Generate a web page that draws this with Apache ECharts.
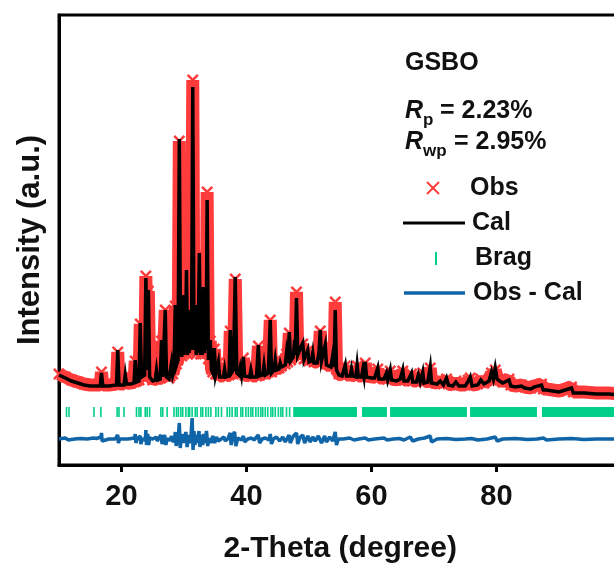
<!DOCTYPE html>
<html><head><meta charset="utf-8">
<script src="https://cdn.jsdelivr.net/npm/echarts@6/dist/echarts.min.js"></script>
<style>html,body{margin:0;padding:0;background:#fff}#c{width:614px;height:569px}</style>
</head><body><div id="c"></div>
<script>
// ---- data (2-theta in degrees, intensity in arbitrary units) ----
const xTicks = [20, 40, 60, 80];
const calPoints = [[10,90],[11,87],[12,84],[13,82],[14,80],[15,79],[16,79],[16.6,79],[16.8,92],[17.0,79],[18,79],[19.2,80],[19.4,115],[19.6,80],[20.4,80],[20.6,90],[20.8,81],[21.5,81],[22.0,82],[22.2,105],[22.4,83],[22.8,84],[23.0,142],[23.2,88],[23.7,90],[23.9,187],[24.1,95],[24.3,175],[24.5,88],[25.0,84],[25.4,85],[25.6,95],[25.8,85],[26.2,86],[26.4,125],[26.6,88],[26.8,88],[27.0,155],[27.2,88],[27.6,86],[27.8,88],[28.0,102],[28.2,90],[28.4,95],[28.6,160],[28.8,100],[29.05,105],[29.25,326],[29.45,110],[29.55,165],[29.65,108],[29.8,170],[29.95,110],[30.05,145],[30.2,112],[30.4,195],[30.55,110],[30.7,155],[30.85,112],[31.0,135],[31.2,115],[31.4,378],[31.6,115],[31.8,160],[31.95,110],[32.1,145],[32.25,112],[32.45,212],[32.65,110],[32.8,165],[32.95,110],[33.1,178],[33.25,112],[33.4,145],[33.55,115],[33.7,265],[33.9,105],[34.2,125],[34.4,95],[34.6,92],[34.85,117],[35.05,90],[35.3,90],[35.5,103],[35.7,88],[36.3,88],[36.5,96],[36.7,88],[37.2,89],[37.4,135],[37.6,92],[37.9,95],[38.2,188],[38.45,92],[38.8,90],[39.0,97],[39.2,90],[39.5,108],[39.7,89],[40.5,88],[40.7,95],[40.9,88],[41.6,88],[41.9,120],[42.1,89],[42.6,90],[42.8,100],[43.0,90],[43.5,92],[43.8,145],[44.0,92],[44.4,95],[44.6,105],[44.8,95],[45.2,96],[45.4,102],[45.6,98],[46.2,100],[46.4,112],[46.6,102],[46.85,133],[47.05,104],[47.5,108],[47.7,125],[47.8,110],[48.0,167],[48.2,110],[48.5,108],[48.7,118],[49.0,122],[49.2,105],[49.5,106],[49.8,115],[50.0,103],[50.4,104],[50.6,112],[50.8,102],[51.3,102],[51.6,113],[51.8,135],[52.0,104],[52.3,105],[52.6,120],[52.8,100],[53.5,98],[53.8,110],[54.0,98],[54.2,155],[54.4,95],[54.8,90],[55.3,89],[55.8,100],[56.0,89],[56.6,89],[56.8,96],[57.0,89],[57.5,88],[57.7,100],[57.9,88],[58.4,88],[58.6,95],[58.8,88],[59.0,103],[59.2,88],[60,87],[60.5,87],[61.0,97],[61.2,86],[62,86],[62.4,92],[62.6,85],[63.0,95],[63.2,85],[64,84],[64.6,86],[65.0,95],[65.2,84],[65.8,84],[66.4,92],[66.6,83],[67.2,83],[67.5,90],[67.8,83],[68.2,93],[68.4,82],[69.0,83],[69.4,98],[69.6,82],[70.5,81],[71,84],[71.5,80],[72,87],[72.3,80],[73,79],[73.5,83],[74,79],[75,79],[75.5,84],[75.8,88],[76.1,79],[77,80],[77.5,85],[78,81],[78.8,84],[79.2,93],[79.5,86],[79.8,97],[80.1,86],[80.5,84],[81,82],[82,85],[82.3,79],[83,78],[84,79],[84.5,77],[85.5,76],[86,78],[87.2,80],[87.5,75],[88,75],[89,74],[90,73],[92,77],[92.3,72],[94,72],[96,71],[98,71],[100,70]];
const obsPoints = [[10,91],[11,88],[12,85],[13,83],[14,81],[15,80],[16,80],[16.6,80],[16.8,93],[17.0,80],[18,80],[19.2,81],[19.4,113],[19.6,81],[20.4,81],[20.6,89],[20.8,82],[21.5,82],[22.0,83],[22.2,104],[22.4,84],[22.8,85],[23.0,141],[23.2,89],[23.7,91],[23.9,189],[24.1,96],[24.3,174],[24.5,89],[25.0,85],[25.4,86],[25.6,94],[25.8,86],[26.2,87],[26.4,124],[26.6,89],[26.8,89],[27.0,155],[27.2,89],[27.6,87],[27.8,89],[28.0,101],[28.2,91],[28.4,96],[28.6,159],[28.8,101],[29.05,106],[29.25,324],[29.45,111],[29.55,164],[29.65,109],[29.8,169],[29.95,111],[30.05,144],[30.2,113],[30.4,194],[30.55,111],[30.7,154],[30.85,113],[31.0,134],[31.2,116],[31.4,385],[31.6,116],[31.8,159],[31.95,111],[32.1,144],[32.25,113],[32.45,211],[32.65,111],[32.8,164],[32.95,111],[33.1,177],[33.25,113],[33.4,144],[33.55,116],[33.7,273],[33.9,106],[34.2,124],[34.4,96],[34.6,93],[34.85,116],[35.05,91],[35.3,91],[35.5,102],[35.7,89],[36.3,89],[36.5,95],[36.7,89],[37.2,90],[37.4,134],[37.6,93],[37.9,96],[38.2,186],[38.45,93],[38.8,91],[39.0,96],[39.2,91],[39.5,107],[39.7,90],[40.5,89],[40.7,94],[40.9,89],[41.6,89],[41.9,119],[42.1,90],[42.6,91],[42.8,99],[43.0,91],[43.5,93],[43.8,145],[44.0,93],[44.4,96],[44.6,104],[44.8,96],[45.2,97],[45.4,101],[45.6,99],[46.2,101],[46.4,111],[46.6,103],[46.85,132],[47.05,105],[47.5,109],[47.7,124],[47.8,111],[48.0,173],[48.2,111],[48.5,109],[48.7,117],[49.0,121],[49.2,106],[49.5,107],[49.8,114],[50.0,104],[50.4,105],[50.6,111],[50.8,103],[51.3,103],[51.6,112],[51.8,134],[52.0,105],[52.3,106],[52.6,119],[52.8,101],[53.5,99],[53.8,109],[54.0,99],[54.2,163],[54.4,96],[54.8,91],[55.3,90],[55.8,99],[56.0,90],[56.6,90],[56.8,95],[57.0,90],[57.5,89],[57.7,99],[57.9,89],[58.4,89],[58.6,94],[58.8,89],[59.0,102],[59.2,89],[60,88],[60.5,88],[61.0,96],[61.2,87],[62,87],[62.4,91],[62.6,86],[63.0,94],[63.2,86],[64,85],[64.6,87],[65.0,94],[65.2,85],[65.8,85],[66.4,91],[66.6,84],[67.2,84],[67.5,89],[67.8,84],[68.2,92],[68.4,83],[69.0,84],[69.4,97],[69.6,83],[70.5,82],[71,85],[71.5,81],[72,86],[72.3,81],[73,80],[73.5,84],[74,80],[75,80],[75.5,85],[75.8,87],[76.1,80],[77,81],[77.5,86],[78,82],[78.8,85],[79.2,92],[79.5,87],[79.8,95],[80.1,87],[80.5,85],[81,83],[82,86],[82.3,80],[83,79],[84,80],[84.5,78],[85.5,77],[86,79],[87.2,81],[87.5,76],[88,76],[89,75],[90,74],[92,78],[92.3,73],[94,73],[96,72],[98,72],[100,71]];
const diffPoints = [[10,26],[11,27],[11.5,25],[12.5,26],[13.5,26.5],[14.5,26],[15.5,27],[16,26.5],[16.7,28],[16.8,32],[16.9,24],[17.2,26],[18,26],[19,26],[19.3,24],[19.4,30],[19.5,22],[19.7,26],[21,26],[22.1,27],[22.2,31],[22.3,22],[22.5,26],[23.0,29],[23.1,21],[23.3,26],[23.8,25],[23.9,35],[24.0,20],[24.2,31],[24.35,20],[24.5,27],[25,26],[25.6,28],[25.7,24],[26.3,30],[26.5,21],[26.7,26],[26.9,30],[27.1,20],[27.3,26],[27.8,25],[28.0,29],[28.2,23],[28.5,26],[28.6,33],[28.75,19],[29.1,30],[29.25,42],[29.4,17],[29.6,30],[29.75,22],[29.9,31],[30.1,22],[30.3,33],[30.5,18],[30.7,30],[30.9,22],[31.1,27],[31.3,47],[31.45,15],[31.6,34],[31.75,20],[31.9,30],[32.1,22],[32.4,34],[32.55,18],[32.8,30],[33.0,20],[33.15,31],[33.4,22],[33.6,34],[33.8,19],[34.0,27],[34.3,22],[34.6,29],[34.9,22],[35.2,28],[35.5,24],[35.8,26],[36.4,28],[36.6,24],[37.0,26],[37.4,32],[37.55,20],[37.8,30],[38.1,33],[38.3,19],[38.6,27],[39.2,25],[39.5,29],[39.7,23],[40.2,26],[40.8,27],[41.2,25],[41.9,30],[42.1,22],[42.5,26],[43.0,27],[43.6,25],[43.8,31],[44.0,21],[44.3,26],[44.8,28],[45.3,24],[45.8,28],[46.2,23],[46.8,30],[47.0,22],[47.5,29],[48.0,32],[48.2,21],[48.6,28],[49.0,30],[49.3,22],[49.8,29],[50.2,23],[50.6,28],[51.0,24],[51.5,29],[51.8,30],[52.0,22],[52.5,29],[52.8,23],[53.3,28],[53.8,24],[54.2,33],[54.4,20],[54.7,26],[55.5,26],[56.5,27],[57.2,25],[58,26],[59,27],[59.5,25],[60.5,26],[62,27],[62.5,25],[63.5,26],[64.5,26.5],[65.2,25],[66.2,28],[66.6,24],[67.5,26],[68.5,27],[69.4,29],[69.6,23],[70.5,26],[72,26.5],[73.5,25.5],[75,26],[76,26.5],[77,25],[78.5,26],[79.8,28],[80.1,24],[81,26],[83,26.5],[85,25.5],[86.5,26],[87.5,27],[88,25],[90,26],[92,26.5],[94,25.5],[96,26],[98,26],[100,26]];
const bragTicks = [11.2,11.6,15.6,16.7,19.3,19.6,20.4,22.4,22.8,23.1,23.8,24.1,24.5,26.3,26.6,27.3,28.4,28.8,29.1,29.5,29.8,30.3,30.7,30.9,31.3,31.8,32.1,32.7,33.0,33.5,33.9,34.3,35.1,35.5,36.0,36.9,37.3,37.7,38.2,38.5,39.1,39.4,39.9,40.3,40.7,41.0,41.5,41.9,42.3,42.6,43.0,43.4,43.9,44.2,44.6,45.1,45.5,45.8,46.4,46.9];
const bragBands = [[47.6,57.8],[58.6,62.6],[63.1,75.4],[75.9,86.6],[87.4,100]];
const bragLevel = [48, 58];
const legendNames = ['Obs', 'Cal', 'Brag', 'Obs - Cal'];

// ---- styles ----
const FONT = '"Liberation Sans", Arial, sans-serif';
const RED = '#ff3b3b', BLACK = '#000000', GREEN = '#00cf8a', BLUE = '#1064a8';
const X_PATH = 'path://M0,1.5L1.5,0L5,3.5L8.5,0L10,1.5L6.5,5L10,8.5L8.5,10L5,6.5L1.5,10L0,8.5L3.5,5Z';

const bragData = bragTicks.map(t => [t, t]).concat(bragBands.map(b => [b[0], b[1]]));

const chart = echarts.init(document.getElementById('c'), null, {renderer: 'canvas'});
const txt = (x, y, text, size) => ({
  type: 'text', x: x, y: y, z: 100,
  style: {text: text, fill: '#111', font: 'bold ' + size + 'px ' + FONT, textVerticalAlign: 'middle'}
});

chart.setOption({
  animation: false,
  backgroundColor: '#fff',
  grid: {left: 59, top: 15, width: 562.5, height: 450, show: true, borderColor: BLACK, borderWidth: 3,
         backgroundColor: 'transparent', containLabel: false, outerBoundsMode: 'none'},
  xAxis: {
    type: 'value', min: 10, max: 100,
    name: '2-Theta (degree)', nameLocation: 'middle', nameGap: 69,
    nameTextStyle: {fontFamily: FONT, fontWeight: 'bold', fontSize: 30, color: '#111'},
    axisLine: {show: true, lineStyle: {color: BLACK, width: 3}},
    axisTick: {show: true, inside: false, length: 7, lineStyle: {color: BLACK, width: 3}, customValues: xTicks},
    axisLabel: {show: true, margin: 17, fontFamily: FONT, fontWeight: 'bold', fontSize: 29, color: '#111', customValues: xTicks},
    splitLine: {show: false}
  },
  yAxis: {
    type: 'value', min: 0, max: 450,
    name: 'Intensity (a.u.)', nameLocation: 'middle', nameGap: 13,
    nameTextStyle: {fontFamily: FONT, fontWeight: 'bold', fontSize: 31, color: '#111'},
    axisLine: {show: true, lineStyle: {color: BLACK, width: 3}},
    axisTick: {show: false}, axisLabel: {show: false}, splitLine: {show: false}
  },
  series: [
    {name: legendNames[0], type: 'line', data: obsPoints, z: 1,
     lineStyle: {color: RED, width: 13, join: 'bevel'},
     symbol: X_PATH, symbolSize: 12, showAllSymbol: true, itemStyle: {color: RED}},
    {name: legendNames[1], type: 'line', data: calPoints, z: 2, symbol: 'none',
     lineStyle: {color: BLACK, width: 3.5, join: 'miter'}},
    {name: legendNames[2], type: 'custom', z: 3, data: bragData,
     renderItem: function (params, api) {
       const p1 = api.coord([api.value(0), bragLevel[1]]);
       const p2 = api.coord([api.value(1), bragLevel[0]]);
       const w = Math.max(p2[0] - p1[0], 1.6);
       return {type: 'rect', shape: {x: p1[0] - 0.8, y: p1[1], width: w, height: p2[1] - p1[1]}, style: {fill: GREEN}};
     }},
    {name: legendNames[3], type: 'line', data: diffPoints, z: 4, symbol: 'none',
     lineStyle: {color: BLUE, width: 3.5}}
  ],
  graphic: [
    txt(405, 63, 'GSBO', 25),
    {type: 'text', x: 405, y: 111, z: 100, style: {text: 'R', fill: '#111', font: 'italic bold 25px ' + FONT, textVerticalAlign: 'middle'}},
    {type: 'text', x: 423, y: 120, z: 100, style: {text: 'p', fill: '#111', font: 'bold 17px ' + FONT, textVerticalAlign: 'middle'}},
    txt(440, 111, '= 2.23%', 25),
    {type: 'text', x: 405, y: 142, z: 100, style: {text: 'R', fill: '#111', font: 'italic bold 25px ' + FONT, textVerticalAlign: 'middle'}},
    {type: 'text', x: 423, y: 151, z: 100, style: {text: 'wp', fill: '#111', font: 'bold 17px ' + FONT, textVerticalAlign: 'middle'}},
    txt(454, 142, '= 2.95%', 25),
    {type: 'polyline', z: 100, shape: {points: [[427, 182], [439, 194]]}, style: {stroke: RED, lineWidth: 2}},
    {type: 'polyline', z: 100, shape: {points: [[439, 182], [427, 194]]}, style: {stroke: RED, lineWidth: 2}},
    txt(470, 188, legendNames[0], 25),
    {type: 'line', z: 100, shape: {x1: 403, y1: 223, x2: 465, y2: 223}, style: {stroke: BLACK, lineWidth: 3}},
    txt(472, 223, legendNames[1], 25),
    {type: 'rect', z: 100, shape: {x: 435, y: 252, width: 2, height: 13}, style: {fill: GREEN}},
    txt(475, 258, legendNames[2], 25),
    {type: 'line', z: 100, shape: {x1: 404, y1: 293, x2: 465, y2: 293}, style: {stroke: BLUE, lineWidth: 3.5}},
    txt(473, 293, legendNames[3], 25)
  ]
});
</script>
</body></html>
